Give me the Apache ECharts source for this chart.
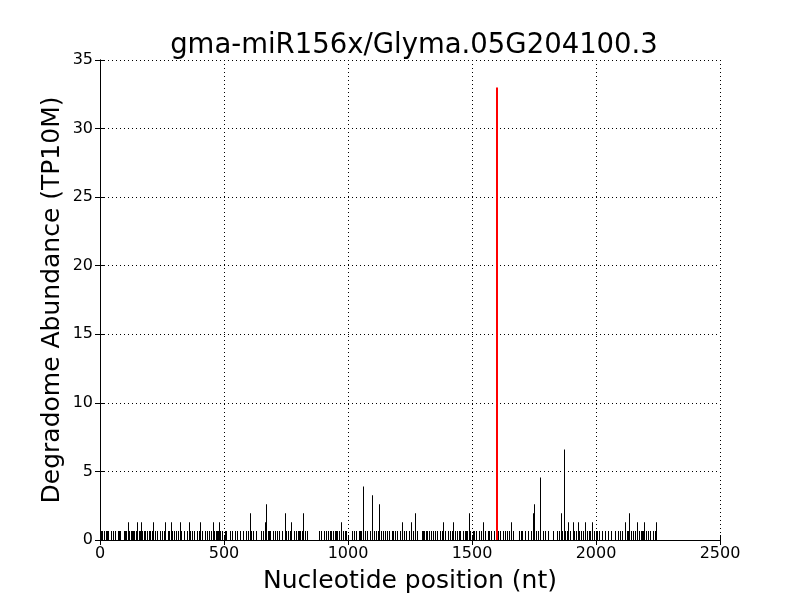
<!DOCTYPE html>
<html><head><meta charset="utf-8">
<script src="https://cdn.jsdelivr.net/npm/echarts@6/dist/echarts.min.js"></script>
<style>html,body{margin:0;padding:0;background:#fff}#c{width:800px;height:600px}</style>
</head><body><div id="c"></div>
<script>
const title = 'gma-miR156x/Glyma.05G204100.3';
const xName = 'Nucleotide position (nt)';
const yName = 'Degradome Abundance (TP10M)';
const xTicks = [0, 500, 1000, 1500, 2000, 2500];
const yTicks = [0, 5, 10, 15, 20, 25, 30, 35];

// single-read positions (0.65 TP10M each)
const basePositions = [3,6,10,18,28,32,36,45,55,63,75,80,84,100,104,108,118,125,132,136,140,146,158,162,172,178,185,192,200,205,210,222,232,245,252,262,275,280,292,300,310,318,328,340,352,366,372,380,392,400,412,425,432,440,448,462,470,474,478,486,495,
505,512,525,535,545,555,565,578,590,598,612,620,630,650,658,680,684,688,700,708,716,724,735,752,760,768,785,792,800,804,808,815,828,835,885,895,905,912,920,928,935,942,950,954,958,965,980,988,995,
1020,1028,1036,1045,1052,1056,1072,1080,1090,1108,1116,1124,1135,1142,1150,1160,1168,1178,1185,1192,1200,1212,1228,1236,1248,1265,1280,1300,1304,1308,1315,1322,1330,1338,1345,1352,1360,1372,1380,1395,1405,1412,1420,1432,1440,1448,1455,1465,1472,1476,1480,1495,
1505,1512,1520,1530,1540,1556,1565,1572,1580,1590,1608,1616,1625,1635,1645,1652,1668,1690,1698,1705,1715,1728,1740,1760,1768,1790,1798,1810,1830,1845,1852,1865,1878,1885,1898,1915,1922,1935,1942,1950,1965,1972,1978,1992,2000,
2008,2015,2025,2040,2050,2062,2080,2090,2098,2108,2125,2130,2145,2152,2160,2175,2182,2186,2190,2205,2212,2220,2230,2240];
const baseValue = 0.65;

// taller peaks
const peakPositions = [114,151,168,215,266,290,323,359,405,457,480,605,668,672,746,773,822,972,1061,1097,1125,1129,1220,1257,1273,1387,1424,1488,1548,1661,1747,1754,1778,1859,1871,1891,1908,1929,1956,1985,2117,2137,2167,2197,2245];
const peakValues    = [1.3,1.3,1.3,1.3,1.3,1.3,1.3,1.3,1.3,1.3,1.3,1.95,1.3,2.6,1.95,1.3,1.95,1.3,3.91,3.26,1.3,2.6,1.3,1.3,1.95,1.3,1.3,1.95,1.3,1.3,1.95,2.6,4.56,1.95,6.6,1.3,1.3,1.3,1.3,1.3,1.3,1.95,1.3,1.3,1.3];

// miRNA target site
const targetPositions = [1600];
const targetValues = [33.0];

const blackData = basePositions.map(p => [p, baseValue]).concat(peakPositions.map((p, i) => [p, peakValues[i]]));
const redData = targetPositions.map((p, i) => [p, targetValues[i]]);

function stick(width, color) {
  return function (params, api) {
    const top = api.coord([api.value(0), api.value(1)]);
    const bot = api.coord([api.value(0), 0]);
    const x = Math.round(top[0] - width / 2);
    return { type: 'rect', shape: { x: x, y: top[1], width: width, height: bot[1] - top[1] }, style: { fill: color } };
  };
}

const font = 'DejaVu Sans';
const chart = echarts.init(document.getElementById('c'), null, { renderer: 'canvas' });
const axLabel = { fontFamily: font, fontSize: 16, color: '#000', formatter: v => String(v) };
chart.setOption({
  animation: false,
  backgroundColor: '#fff',
  title: { text: title, left: 409, top: 27, textAlign: 'center', textStyle: { fontFamily: font, fontSize: 27.5, fontWeight: 'normal', color: '#000' } },
  grid: { left: 100, right: 80, top: 60, bottom: 60, show: false, containLabel: false, outerBoundsMode: 'none' },
  xAxis: [{
    type: 'value', min: xTicks[0], max: xTicks[xTicks.length - 1], interval: 500,
    name: xName, nameLocation: 'middle', nameGap: 29, nameTextStyle: { fontFamily: font, fontSize: 25, color: '#000' },
    axisLine: { show: true, onZero: false, lineStyle: { color: '#000', width: 1 } },
    axisTick: { show: true, inside: true, length: 5, lineStyle: { color: '#000' } },
    axisLabel: Object.assign({ margin: 6 }, axLabel),
    splitLine: { show: true, lineStyle: { color: '#000', type: [1, 3], width: 1 } }
  }, {
    type: 'value', position: 'top', min: 0, max: 2500, interval: 500,
    axisLine: { show: true, lineStyle: { color: '#000' } },
    axisTick: { show: true, inside: true, length: 5, lineStyle: { color: '#000' } },
    axisLabel: { show: false }, splitLine: { show: false }
  }],
  yAxis: [{
    type: 'value', min: yTicks[0], max: yTicks[yTicks.length - 1], interval: 5,
    name: yName, nameLocation: 'middle', nameGap: 35, nameMoveOverlap: false, nameRotate: 90, nameTextStyle: { fontFamily: font, fontSize: 25, color: '#000' },
    axisLine: { show: true, lineStyle: { color: '#000', width: 1 } },
    axisTick: { show: true, inside: true, length: 5, lineStyle: { color: '#000' } },
    axisLabel: Object.assign({ margin: 7 }, axLabel),
    splitLine: { show: true, lineStyle: { color: '#000', type: [1, 3], width: 1 } }
  }, {
    type: 'value', position: 'right', min: 0, max: 35, interval: 5,
    axisLine: { show: true, lineStyle: { color: '#000' } },
    axisTick: { show: true, inside: true, length: 5, lineStyle: { color: '#000' } },
    axisLabel: { show: false }, splitLine: { show: false }
  }],
  series: [
    { type: 'custom', name: 'reads', xAxisIndex: 0, yAxisIndex: 0, data: blackData, renderItem: stick(1, '#000'), clip: true, z: 3 },
    { type: 'custom', name: 'target', xAxisIndex: 0, yAxisIndex: 0, data: redData, renderItem: stick(2, '#ff0000'), clip: true, z: 4 }
  ]
});
</script></body></html>
